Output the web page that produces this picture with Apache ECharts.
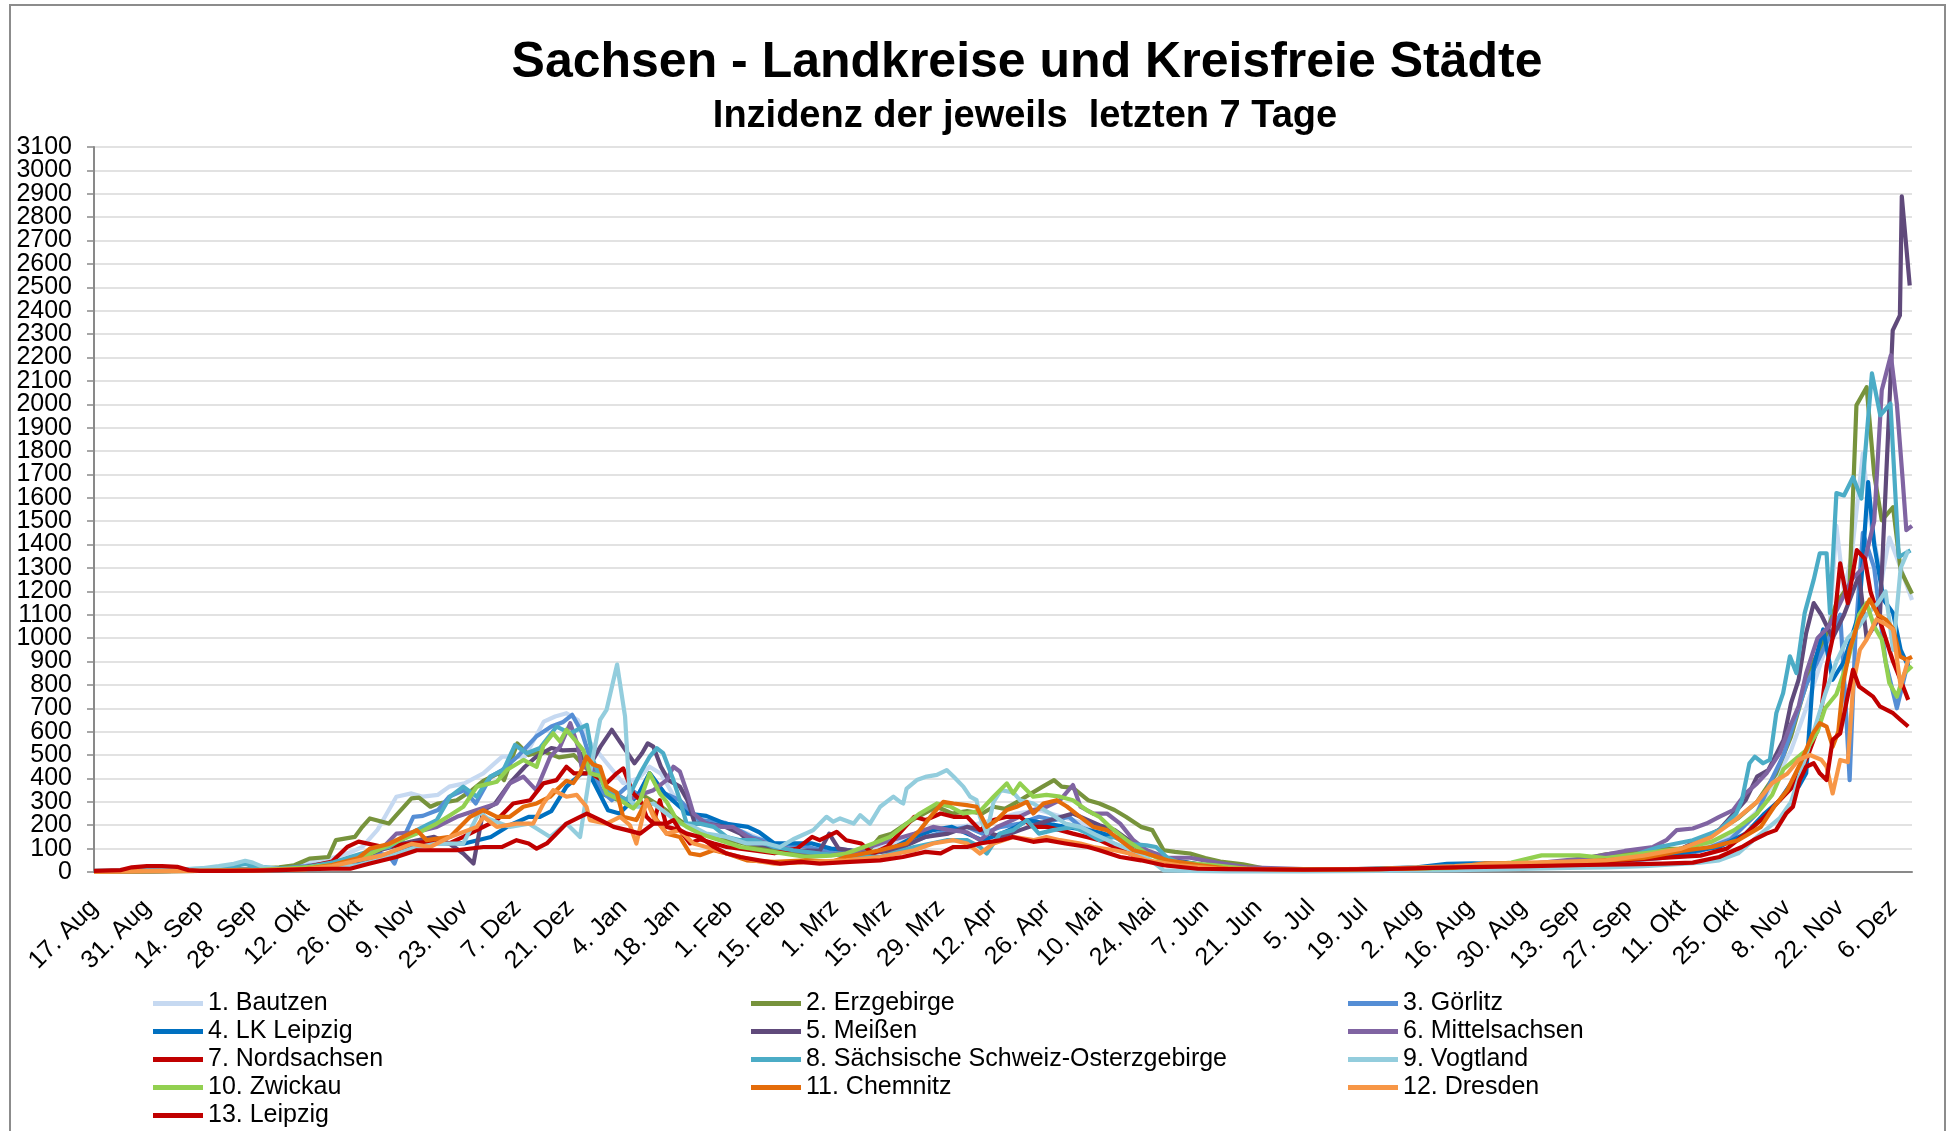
<!DOCTYPE html>
<html><head><meta charset="utf-8">
<script src="https://cdn.jsdelivr.net/npm/echarts@6/dist/echarts.min.js"></script>
<style>html,body{margin:0;padding:0;background:#fff}#chart{width:1950px;height:1131px}</style>
</head><body><div id="chart"></div>
<script>
const startDateUTC = Date.UTC(2020, 7, 17); // day 0 = 17. Aug 2020
const monthNames = ['Jan','Feb','Mrz','Apr','Mai','Jun','Jul','Aug','Sep','Okt','Nov','Dez'];
const seriesNames = ['1. Bautzen','2. Erzgebirge','3. Görlitz','4. LK Leipzig','5. Meißen','6. Mittelsachsen','7. Nordsachsen','8. Sächsische Schweiz-Osterzgebirge','9. Vogtland','10. Zwickau','11. Chemnitz','12. Dresden','13. Leipzig'];
const seriesColors = ['#C6D9F1','#77933C','#558ED5','#0070C0','#604A7B','#8064A2','#C00000','#4BACC6','#93CDDD','#92D050','#E46C0A','#F79646','#C00000'];

// [day since 17 Aug 2020, 7-day incidence]
const bautzen = [[0,3],[7,4],[14,5],[21,6],[28,10],[35,12],[42,14],[49,18],[56,35],[63,60],[68,85],[71,107],[75,180],[78,265],[80,322],[84,336],[87,322],[91,330],[94,365],[98,379],[103,422],[108,493],[114,493],[119,643],[122,665],[125,679],[128,650],[131,560],[135,479],[140,380],[144,400],[147,450],[150,420],[153,336],[157,250],[162,230],[166,200],[172,170],[180,120],[190,90],[200,80],[210,110],[220,180],[226,190],[232,200],[238,222],[244,250],[250,265],[256,236],[262,207],[268,164],[274,120],[280,80],[287,40],[295,20],[305,10],[320,6],[340,8],[360,15],[375,22],[390,35],[405,50],[415,70],[425,100],[433,150],[440,260],[445,400],[449,520],[453,700],[456,850],[459,1000],[461,1480],[463,1200],[465,1350],[468,1790],[470,1500],[473,1250],[475,1430],[478,1300],[481,1163]];
const erzgebirge = [[0,2],[7,3],[14,4],[21,5],[28,8],[35,10],[42,12],[49,20],[53,29],[57,57],[62,64],[64,136],[69,150],[71,193],[73,229],[78,207],[80,243],[84,315],[86,318],[89,279],[91,293],[96,307],[100,350],[103,390],[107,422],[108.5,393],[112,550],[115,500],[119,515],[123,490],[127,500],[131,430],[135,330],[140,300],[145,330],[150,280],[155,220],[160,170],[170,130],[180,90],[190,75],[200,80],[205,93],[208,150],[211,164],[215,207],[218,236],[223,279],[227,250],[231,260],[235,250],[238,279],[241,270],[245,307],[248,336],[251,365],[254,393],[256,365],[259,360],[263,307],[266,293],[270,265],[273,236],[277,193],[280,179],[283,93],[286,86],[290,79],[294,60],[298,45],[304,33],[310,14],[320,10],[340,10],[360,15],[380,30],[392,50],[400,76],[406,85],[412,97],[420,100],[425,130],[430,180],[435,230],[440,300],[445,420],[449,580],[452,750],[455,900],[458,1000],[461,1150],[464.5,1230],[466.3,1996],[467.5,2030],[469,2073],[471,1700],[473,1504],[476,1560],[478,1290],[481,1190]];
const goerlitz = [[0,2],[7,3],[14,4],[21,5],[28,7],[35,8],[42,10],[49,14],[56,25],[63,40],[70,60],[75,80],[78,70],[79.5,36],[82,150],[84.5,236],[87,240],[91,265],[94,322],[98,350],[101,293],[105,408],[108,436],[112,493],[117,579],[121,622],[124,640],[126.5,672],[129,600],[132,450],[134,350],[137,307],[141,365],[144,330],[147,422],[151,336],[155,307],[160,222],[167,210],[174,150],[180,122],[188,110],[196,80],[206,80],[212,107],[220,150],[227,179],[231,193],[235,164],[240,193],[245,207],[250,236],[254,222],[258,236],[261,193],[266,164],[270,150],[274,136],[279,79],[287,40],[296,20],[305,10],[330,6],[360,12],[380,25],[400,40],[415,60],[425,90],[433,140],[440,250],[444,400],[447,500],[450,650],[453,800],[456,900],[459,1000],[462,1100],[463.5,700],[464.5,393],[466,1000],[468,1450],[471,1300],[474,900],[477,700],[480,900]];
const lkLeipzig = [[0,2],[14,4],[28,6],[42,8],[56,15],[63,25],[70,45],[77,60],[83,100],[89,122],[98,122],[105,150],[110,200],[115,236],[118,236],[121,260],[125,365],[129,422],[131,422],[136,264],[139,250],[144,330],[147,422],[151,336],[157,250],[162,240],[167,207],[173,193],[176,170],[180,122],[185,122],[190,122],[195,100],[200,93],[205,79],[212,107],[217,150],[222,179],[227,193],[231,164],[235,136],[240,164],[244,193],[247,222],[252,207],[257,193],[263,179],[267,164],[270,150],[274,122],[279,79],[286,50],[295,25],[305,12],[330,10],[350,20],[358,35],[365,37],[372,35],[380,30],[395,40],[410,60],[420,80],[430,107],[437,164],[442,250],[446,307],[449,379],[451,365],[453,422],[455,879],[457.5,1037],[460,822],[463,900],[467,1107],[469.4,1667],[471,1400],[473.5,1164],[476,1107],[478,950],[480,880]];
const meissen = [[0,2],[14,4],[28,6],[42,8],[56,15],[63,30],[70,60],[77,100],[84,130],[90,150],[94,122],[97.7,79],[100.4,36],[103,265],[106,290],[110,380],[114,450],[117,493],[121,530],[124,520],[128,522],[131,450],[134,536],[137,608],[140,536],[143,465],[145,508],[146.5,550],[148,536],[150,450],[152,393],[155,365],[157,307],[159,207],[162,207],[167,193],[171,164],[174,122],[180,107],[186,93],[192,90],[194.5,164],[197,100],[205,79],[212,93],[220,150],[226,164],[231,193],[235,179],[240,150],[245,179],[250,207],[256,236],[259,250],[263,222],[266,200],[270,180],[275,122],[280,79],[285,50],[295,25],[305,12],[330,8],[360,15],[380,25],[395,40],[410,70],[420,100],[430,180],[437,307],[440,408],[443,436],[447,565],[449,722],[451,822],[453,1022],[455,1150],[457,1100],[460,1000],[463,1100],[467,1269],[469,1000],[472.5,1090],[475.9,2316],[477.8,2380],[478.3,2889],[480.4,2508]];
const mittelsachsen = [[0,2],[14,3],[28,5],[42,7],[56,14],[63,30],[70,60],[76.6,107],[80,164],[85,170],[90.7,193],[96,236],[101.3,265],[106.6,293],[110,379],[113.6,408],[117,350],[120.7,493],[123.3,536],[126,636],[128,540],[129,450],[133,440],[136,350],[141,307],[144.5,330],[148,350],[151.5,393],[153.3,450],[155,430],[157,336],[158.6,250],[162,207],[166,193],[169,193],[173,150],[180,110],[188,85],[195,75],[200,80],[208,122],[217,164],[222,193],[226,180],[231,170],[234.4,136],[239,193],[243,222],[248.5,265],[252,279],[255.6,307],[259,372],[261,279],[264.4,250],[268,250],[271.5,207],[275,136],[278.5,93],[284,61],[290,61],[297,40],[305,20],[320,12],[340,12],[360,20],[380,35],[395,60],[405,90],[412.5,107],[416,136],[418.7,179],[423,186],[426.6,207],[430,236],[433.7,265],[437,336],[440,379],[442.5,422],[446,508],[448.7,622],[451,708],[453,850],[456,1000],[459,1050],[462,1150],[465,1250],[468,1300],[471,1500],[473,2060],[475.4,2209],[477,2000],[478.5,1684],[479.5,1462],[481,1480]];
const nordsachsen = [[0,3],[7,5],[14,8],[21,6],[28,5],[35,6],[42,8],[49,10],[56,20],[63,45],[67,107],[70,130],[76.6,107],[83.6,122],[89,130],[94,122],[97.7,150],[101.3,179],[106.6,222],[110.9,293],[115.4,307],[118.9,379],[122.4,393],[125,450],[127,422],[131.6,422],[135.6,379],[138.3,422],[140,443],[142.7,336],[144.5,307],[146.2,236],[148,207],[149.7,307],[151.5,193],[155,179],[157.7,122],[160.3,140],[164,122],[167.4,107],[174,93],[180,80],[186,100],[190,150],[192,136],[196.5,172],[199,136],[203,122],[206,79],[210,110],[213,164],[217,236],[220,222],[224,250],[227.4,236],[231,236],[234.4,179],[238,222],[241.5,236],[245,236],[248.5,193],[252,193],[255.6,179],[259,164],[262.6,150],[266,136],[270,107],[274,79],[278.5,50],[284,29],[292,18],[305,12],[330,12],[350,14],[370,20],[385,35],[400,45],[415,60],[425,70],[432,100],[437,164],[442,236],[446,307],[449.5,365],[453,479],[456.6,636],[458.4,879],[460,1000],[462,1320],[464,1150],[466.4,1376],[468.5,1340],[470,1200],[472,1100],[474,1000],[476,900],[478,820],[480,736]];
const saechsSchweiz = [[0,5],[7,6],[14,8],[21,10],[28,15],[35,20],[40,35],[42,25],[49,15],[56,20],[63,40],[67.8,64],[73,90],[78,107],[83.6,164],[88,200],[90.7,222],[94.2,322],[97.7,365],[101.3,322],[104.8,408],[108.3,436],[111.4,543],[114.5,508],[118,530],[122.4,622],[126,593],[130.4,629],[132,479],[135,365],[138,330],[141,307],[144.5,422],[147,493],[148.9,529],[150.6,508],[153.3,393],[155,307],[156.8,207],[160.3,207],[164,193],[167.4,150],[171,136],[175,136],[180,107],[185,93],[192,79],[199,70],[208,64],[217,107],[225.6,136],[231,136],[234.4,107],[236.2,79],[239.7,164],[243.2,179],[246.8,222],[250,164],[253.8,179],[259,193],[263,164],[266,136],[270,150],[273,122],[278.5,114],[281,107],[283.8,64],[287,40],[296,25],[305,14],[330,10],[360,18],[380,30],[395,45],[405,60],[414,107],[423,136],[430,179],[434.5,250],[436,307],[438,465],[439.4,493],[441.6,465],[443.4,480],[445.1,679],[446.9,765],[448.7,922],[450.4,851],[452.6,1107],[455,1250],[456.6,1363],[458.4,1363],[459.3,1107],[461,1620],[463,1610],[465.4,1688],[467.6,1597],[470.4,2132],[472.6,1953],[475.3,2003],[477.5,1347],[480.6,1375]];
const vogtland = [[0,4],[7,5],[14,6],[21,8],[28,15],[33,25],[37,35],[40,48],[42,40],[45,20],[49,12],[56,14],[63,20],[70,30],[77,60],[84,100],[90,120],[97.7,122],[102,257],[104,230],[110,193],[115,207],[120.7,150],[125,207],[128.6,150],[131.2,422],[133.9,650],[135.6,693],[138.4,887],[140.5,665],[141.8,307],[143.5,279],[145.3,279],[148,293],[151.5,250],[155,207],[158.6,193],[162,164],[167.4,150],[172.7,122],[178,122],[181.5,107],[185,140],[190.3,179],[193.8,236],[195.6,215],[197.4,229],[201,207],[202.7,243],[205.3,207],[208,279],[211.5,322],[213.3,300],[214.1,293],[215,357],[217.7,393],[220.3,408],[223,415],[225.6,436],[227.4,408],[230,365],[231.8,322],[233.5,307],[234.4,236],[236.2,165],[238,300],[240,350],[243.2,340],[245,307],[248.5,293],[253,250],[257,207],[261,193],[265,160],[270,122],[275,90],[278.5,64],[283,7],[290,5],[300,3],[320,3],[340,5],[360,8],[375,12],[390,18],[400,20],[410,25],[420,35],[425,40],[430,50],[435,80],[440,150],[443,190],[446,230],[449,300],[452,450],[455,600],[458,760],[461,900],[464,1000],[467,1050],[469,1100],[472,1150],[474,1200],[476,950],[478,1300],[480,1375]];
const zwickau = [[0,2],[14,3],[28,5],[42,8],[49,12],[56,20],[63,30],[70.4,57],[76,100],[81,136],[85.4,164],[90.7,207],[94.2,243],[97.7,279],[101.3,365],[106.6,386],[109.2,436],[113.6,479],[117.1,450],[118.9,540],[121.5,593],[123.3,558],[125,608],[127.5,560],[129.5,520],[131.2,422],[134,410],[135.6,336],[139.2,307],[142.7,272],[144.5,307],[147,422],[149.7,336],[151.5,300],[154.2,222],[156.8,193],[160.3,164],[165.6,136],[171,107],[180,85],[188,65],[195,70],[199,79],[206.2,122],[210.6,150],[215,207],[218.5,250],[223,293],[226.5,280],[230,250],[234.4,260],[238,322],[241.5,379],[243.2,336],[245,379],[248.5,322],[252,330],[255.6,322],[259,307],[262.6,265],[266,236],[268.8,193],[273.2,136],[278.5,79],[283,50],[287.5,40],[296,30],[305,14],[330,10],[360,18],[375,40],[383,71],[393,71],[400,60],[410,80],[420,100],[428,130],[434,179],[440,250],[444,330],[447,440],[450,480],[453,520],[456,600],[458,700],[461,760],[464,900],[467,1100],[469,1150],[471,1050],[473,994],[475,808],[477,750],[479,850],[481,880]];
const chemnitz = [[0,2],[14,4],[28,5],[42,7],[56,12],[63,30],[70,60],[73,100],[78,120],[85.4,179],[88,136],[94.2,150],[99.5,236],[103,265],[106.6,236],[110,236],[113.6,279],[117.1,293],[120.7,322],[123,360],[125,390],[126.8,380],[128.6,422],[130.3,493],[132,460],[133.9,450],[135.6,365],[138.3,340],[140,236],[143.5,222],[146.2,307],[148.9,222],[151.5,164],[155,150],[157.7,79],[160.3,72],[163.9,93],[167.4,79],[172.7,50],[180,43],[188.6,50],[195,43],[199,64],[208,93],[215,122],[218.5,179],[222,250],[224.7,300],[227.4,293],[230.9,286],[233.5,279],[236.2,193],[238.8,222],[241.5,265],[244.1,279],[246.8,300],[248.5,250],[251.2,293],[254.7,307],[257.4,280],[260.9,236],[264.4,193],[268,179],[271.5,136],[275,93],[278.5,79],[284,50],[292,30],[300,15],[320,10],[340,12],[360,20],[368,37],[378,37],[390,40],[400,50],[410,60],[420,90],[428,107],[435,136],[441,193],[444.5,279],[448,350],[451.5,465],[454.8,593],[456.6,636],[458.4,622],[460,536],[461.5,600],[462.8,808],[464.5,950],[467,1080],[469.8,1165],[472,1100],[474,1080],[476,1040],[477.8,922],[479.5,908],[481,920]];
const dresden = [[0,2],[14,4],[28,5],[42,7],[56,12],[63,25],[70,50],[76,70],[84,120],[89,107],[94.2,150],[101.3,193],[103,236],[106.6,193],[111.8,207],[116.2,207],[118.9,293],[121.5,350],[125,322],[127.7,330],[130.3,279],[131.2,222],[135.6,207],[139.2,236],[141.8,200],[143.5,122],[146.2,307],[148,236],[151.5,164],[155,179],[158.6,122],[162,107],[167.4,79],[174.5,50],[180,36],[190,43],[199,50],[208,64],[217,93],[222,122],[227.4,136],[231,122],[234.4,79],[238,122],[243.2,150],[248.5,136],[252,150],[255.6,136],[261,122],[264.4,107],[270,93],[274,79],[278.5,50],[287,29],[297,15],[320,10],[340,14],[360,25],[370,35],[380,40],[390,45],[400,50],[410,70],[420,100],[428,150],[434,220],[440,300],[444,380],[448,420],[451,480],[454,500],[457,480],[458.4,450],[460,336],[462,479],[464,470],[465.5,808],[467.2,950],[469,994],[471.6,1080],[474,1060],[476,1037],[478,793],[480,908]];
const leipzig = [[0,5],[7,8],[10,20],[14,25],[18,25],[22,22],[25,8],[28,5],[35,5],[42,6],[49,8],[56,12],[63,14],[67.8,14],[73,36],[80,64],[85.4,93],[90.7,93],[96,93],[103,107],[108,107],[111.8,136],[115,122],[117.1,100],[119.8,122],[121.5,150],[125,207],[128.6,236],[130.4,250],[134,222],[137.5,193],[141,179],[144.5,164],[148,207],[151.5,207],[153.3,222],[155,179],[156.8,164],[160.3,150],[164,107],[167.4,79],[171,64],[176,50],[181.5,36],[187,43],[192,36],[200,43],[208,50],[214,64],[220,86],[224,80],[227.4,107],[231,107],[234.4,122],[240,136],[243,150],[248.5,129],[252,136],[257,122],[263,107],[266,93],[271.5,64],[277,50],[283,29],[292,14],[300,12],[320,10],[340,12],[360,20],[380,25],[395,30],[405,33],[415,36],[423,40],[430,64],[434,93],[436,107],[439,136],[442.5,164],[445,179],[447.7,250],[449.5,279],[451.3,393],[453,450],[455,465],[456.6,422],[458.4,393],[460,565],[462,593],[465.4,865],[467,793],[470.7,750],[472.5,708],[476,679],[478,650],[480,622]];

const allData = [bautzen, erzgebirge, goerlitz, lkLeipzig, meissen, mittelsachsen, nordsachsen, saechsSchweiz, vogtland, zwickau, chemnitz, dresden, leipzig];

const FONT = '"Liberation Sans", Arial, sans-serif';
function dayLabel(v) {
  if (Math.round(v) % 14 !== 0) return '';
  const d = new Date(startDateUTC + Math.round(v) * 86400000);
  return d.getUTCDate() + '. ' + monthNames[d.getUTCMonth()];
}
const legendCols = [153, 751, 1348];
const legends = seriesNames.map((n, i) => ({
  data: [n], left: legendCols[i % 3], top: 991 + Math.floor(i / 3) * 28,
  icon: 'rect', itemWidth: 50, itemHeight: 5, padding: 0, selectedMode: false,
  textStyle: { fontFamily: FONT, fontSize: 25, color: '#000' }
}));
const yLabelBase = { fontFamily: FONT, fontSize: 25, color: '#000', margin: 22, showMinLabel: true, showMaxLabel: true };

const chart = echarts.init(document.getElementById('chart'));
chart.setOption({
  animation: false,
  backgroundColor: '#fff',
  title: [
    { text: 'Sachsen - Landkreise und Kreisfreie Städte', left: 1022, top: 33, textAlign: 'center',
      textStyle: { fontFamily: FONT, fontSize: 50, fontWeight: 'bold', color: '#000' } },
    { text: 'Inzidenz der jeweils  letzten 7 Tage', left: 1020, top: 93, textAlign: 'center',
      textStyle: { fontFamily: FONT, fontSize: 38, fontWeight: 'bold', color: '#000' } }
  ],
  grid: { left: 94, right: 38, top: 147, bottom: 259 },
  xAxis: {
    type: 'value', min: 0, max: 481, interval: 14,
    splitLine: { show: false },
    axisLine: { lineStyle: { color: '#898989', width: 2 } },
    axisTick: { show: false },
    axisLabel: { rotate: 45, fontFamily: FONT, fontSize: 25, color: '#000', margin: 32, formatter: dayLabel,
      showMinLabel: true, showMaxLabel: false }
  },
  yAxis: [
    { // even hundreds + grid
      type: 'value', position: 'left', min: 0, max: 3100, interval: 100,
      axisLine: { show: true, lineStyle: { color: '#898989', width: 2 } },
      axisTick: { show: true, length: 7, lineStyle: { color: '#898989', width: 1.5 } },
      axisLabel: Object.assign({}, yLabelBase, { formatter: v => (v % 200 === 0 ? String(v) : '') }),
      splitLine: { lineStyle: { color: '#D9D9D9', width: 1.5 } }
    },
    { // odd hundreds
      type: 'value', position: 'left', offset: 0, min: 0, max: 3100, interval: 100,
      axisLine: { show: false }, axisTick: { show: false }, splitLine: { show: false },
      axisLabel: Object.assign({}, yLabelBase, { formatter: v => (v % 200 === 100 ? String(v) : '') })
    }
  ],
  legend: legends,
  series: allData.map((d, i) => ({
    name: seriesNames[i], type: 'line', data: d, yAxisIndex: 0, showSymbol: false, symbol: 'none',
    color: seriesColors[i], lineStyle: { width: 4.2, color: seriesColors[i], join: 'round' }, clip: true
  })),
  graphic: [{ type: 'rect', silent: true, shape: { x: 10, y: 5, width: 1935, height: 1140 },
    style: { fill: null, stroke: '#8c8c8c', lineWidth: 2 } }]
});
</script></body></html>
